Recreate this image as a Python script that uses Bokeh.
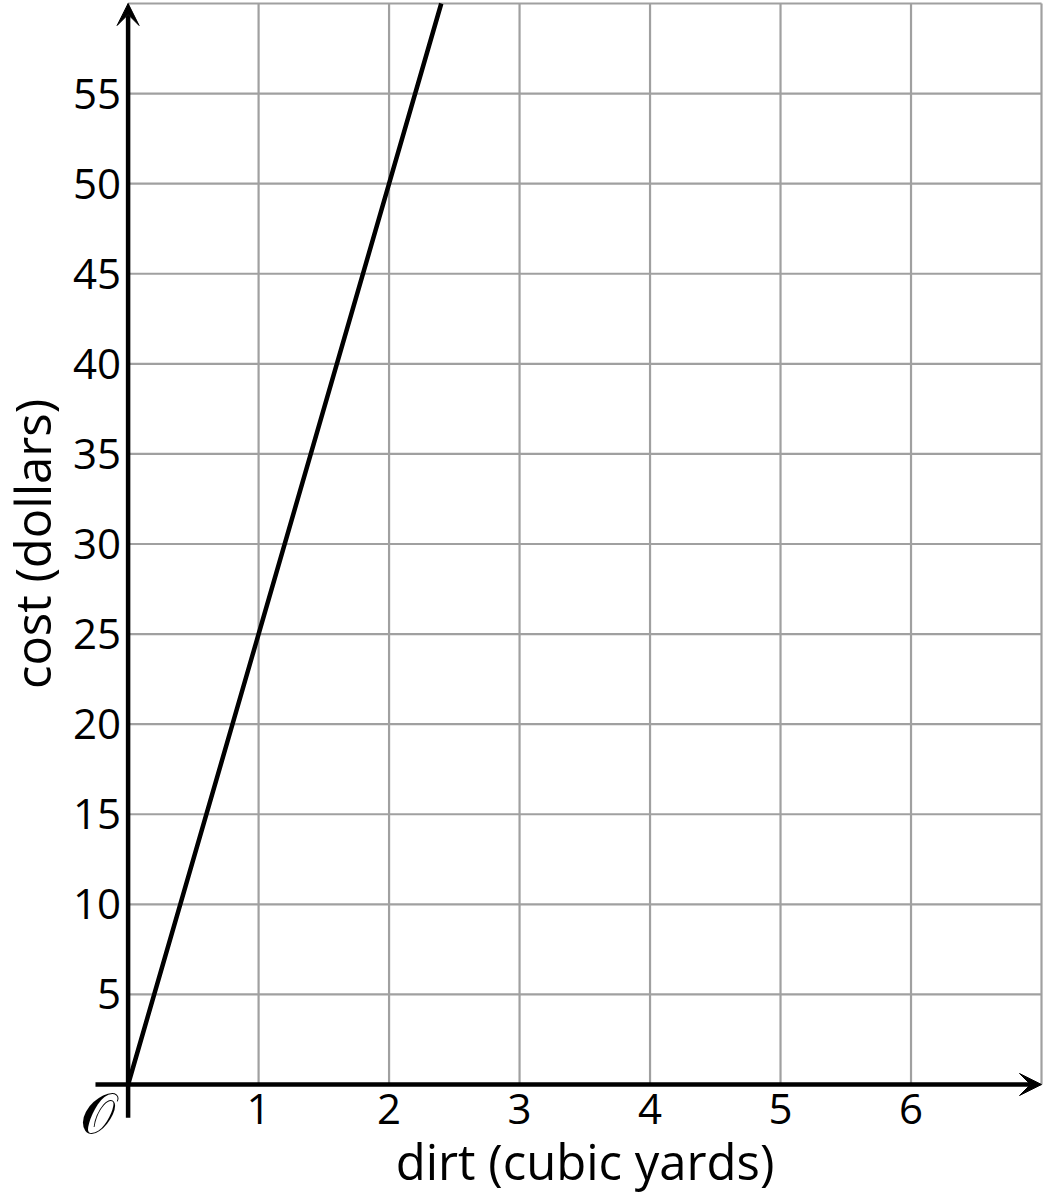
from bokeh.plotting import figure
from bokeh.models import FixedTicker, Arrow, VeeHead, Label, Range1d, LinearAxis
from bokeh.embed import file_html
from bokeh.resources import INLINE

# data
dirt = [0, 1, 2, 2.4]
cost = [0, 25, 50, 60]
x_ticks = [1, 2, 3, 4, 5, 6]
y_ticks = [5, 10, 15, 20, 25, 30, 35, 40, 45, 50, 55]
x_grid = [0, 1, 2, 3, 4, 5, 6, 7]
y_grid = [0, 5, 10, 15, 20, 25, 30, 35, 40, 45, 50, 55, 60]
x_label = "dirt (cubic yards)"
y_label = "cost (dollars)"
origin_label = "𝒪"

FONT = "Open Sans"
GRID = "#a0a0a0"

# canvas geometry (pixels)
W, H = 1043, 1192
ORIGIN_X, ORIGIN_Y = 127.6, 1084.0   # canvas position of data (0, 0)
UX = (W - 2.0 - ORIGIN_X) / max(x_grid)   # px per cubic yard
UY = (ORIGIN_Y - 3.0) / max(y_grid)       # px per dollar

x_range = Range1d(-ORIGIN_X / UX, (W - ORIGIN_X) / UX)
y_range = Range1d(-(H - ORIGIN_Y) / UY, ORIGIN_Y / UY)

p = figure(width=W, height=H, x_range=x_range, y_range=y_range,
           x_axis_type=None, y_axis_type=None,
           min_border=0, min_border_left=0, min_border_right=0,
           min_border_top=0, min_border_bottom=0,
           output_backend="svg", toolbar_location=None)
p.background_fill_color = "white"
p.border_fill_color = "white"
p.outline_line_color = None

# grid lines, bounded by the grid box
gx0, gx1 = min(x_grid), max(x_grid)
gy0, gy1 = min(y_grid), max(y_grid)
p.segment(x0=x_grid, y0=[gy0] * len(x_grid), x1=x_grid, y1=[gy1] * len(x_grid),
          line_color=GRID, line_width=2.2)
p.segment(x0=[gx0] * len(y_grid), y0=y_grid, x1=[gx1] * len(y_grid), y1=y_grid,
          line_color=GRID, line_width=2.2)

def style(ax):
    ax.axis_line_color = None
    ax.major_tick_line_color = None
    ax.minor_tick_line_color = None
    ax.major_tick_out = 0
    ax.major_tick_in = 0
    ax.major_label_text_font = FONT
    ax.major_label_text_font_size = "42px"
    ax.major_label_text_color = "black"
    ax.axis_label_text_font = FONT
    ax.axis_label_text_font_size = "49px"
    ax.axis_label_text_font_style = "normal"
    ax.axis_label_text_color = "black"

xaxis = LinearAxis(fixed_location=0, ticker=FixedTicker(ticks=x_ticks),
                   axis_label=x_label, bounds=(gx0, gx1))
yaxis = LinearAxis(fixed_location=0, ticker=FixedTicker(ticks=y_ticks),
                   axis_label=y_label, bounds=(gy0, gy1))
style(xaxis)
style(yaxis)
xaxis.major_label_standoff = 9
xaxis.axis_label_standoff = 1
yaxis.major_label_standoff = 7
yaxis.axis_label_standoff = 5
p.add_layout(xaxis, "below")
p.add_layout(yaxis, "left")

# axis arrows
p.add_layout(Arrow(x_start=-0.25, y_start=0, x_end=gx1, y_end=0,
                   line_width=4.5, line_color="black",
                   end=VeeHead(size=22, fill_color="black", line_color="black", line_width=1)))
p.add_layout(Arrow(x_start=0, y_start=-1.85, x_end=0, y_end=gy1,
                   line_width=4.5, line_color="black",
                   end=VeeHead(size=22, fill_color="black", line_color="black", line_width=1)))

p.line(dirt, cost, line_width=4.5, line_color="black")

p.add_layout(Label(x=0, y=0, text=origin_label, x_offset=-31, y_offset=-29,
                   text_font_size="56px", text_color="black",
                   text_align="center", text_baseline="middle",
                   text_font="DejaVu Sans"))

open("out.html", "w").write(file_html(p, INLINE))
